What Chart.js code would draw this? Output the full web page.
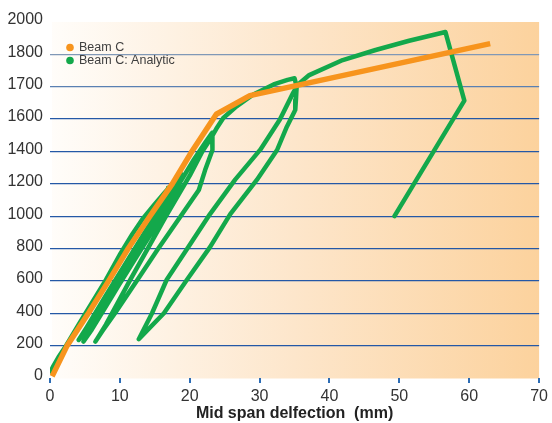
<!DOCTYPE html>
<html>
<head>
<meta charset="utf-8">
<script src="https://cdn.jsdelivr.net/npm/chart.js@4/dist/chart.umd.min.js"></script>
<style>
html,body{margin:0;padding:0;background:#fff;}
canvas{display:block;}
</style>
</head>
<body>
<canvas id="c" width="552" height="423"></canvas>
<script>
// Y tick labels as printed on the original axis (evenly spaced ticks)
const yTickLabels = ['0','200','400','600','800','1000','1200','1400','1600','1700','1800','2000'];
const xTitle = 'Mid span delfection  (mm)';
const seriesNames = ['Beam C', 'Beam C: Analytic'];

// Beam C (test) : deflection (mm) and load (axis units, uniform tick spacing of 200)
const beamX = [0.3, 2.45, 5.5, 8.4, 11.2, 14.3, 17.5, 20.3, 23.8, 28.6, 63.0];
const beamY = [10, 200, 400, 600, 800, 1000, 1200, 1400, 1630, 1745, 2066];

// Beam C: Analytic (cyclic path)
const anaX = [
  0.1, 0.5, 1.3, 2.3, 4.2, 6.1, 8.0, 10.1, 11.8, 13.2, 14.9, 16.3, 17.0,
  16.9, 16.0, 13.4, 10.5, 7.6, 5.5, 4.6, 4.1,
  5.2, 8.0, 11.0, 14.0, 16.8, 18.8,
  18.6, 17.9, 15.3, 12.4, 9.5, 6.8, 5.4, 4.8,
  6.0, 9.1, 12.3, 15.2, 18.2, 20.6, 22.3, 23.2,
  23.3, 23.2, 22.2, 21.3, 18.7, 15.5, 12.4, 9.3, 7.5, 6.5,
  8.0, 11.4, 16.6, 20.0, 21.8, 23.0, 23.8, 24.8, 26.7, 29.1, 32.0, 34.0, 35.0,
  35.3, 35.2, 35.1, 33.9, 32.5, 29.6, 25.8, 22.9, 19.6, 16.3, 12.7,
  14.6, 16.7, 19.8, 22.9, 26.5, 30.1, 32.9, 34.8, 35.5, 37.1, 41.9, 46.6, 51.4, 56.6,
  59.3, 49.3
];
const anaY = [
  40, 75, 135, 200, 338, 472, 606, 770, 890, 980, 1070, 1140, 1175,
  1120, 1040, 860, 660, 460, 320, 260, 235,
  310, 510, 720, 930, 1120, 1260,
  1205, 1120, 950, 750, 550, 360, 265, 225,
  300, 520, 750, 960, 1180, 1350, 1460, 1515,
  1470, 1409, 1285, 1162, 1000, 800, 600, 400, 290, 225,
  330, 600, 1000, 1250, 1400, 1480, 1540, 1607, 1679, 1752, 1814, 1842, 1852,
  1800, 1720, 1656, 1553, 1409, 1224, 1013, 809, 607, 400, 240,
  400, 607, 809, 1013, 1226, 1411, 1597, 1762, 1814, 1872, 1965, 2027, 2084, 2138,
  1714, 1000
];

const FONT = "'Liberation Sans', Arial, Helvetica, sans-serif";

const toPts = (xs, ys) => xs.map((x, i) => ({x: x, y: ys[i]}));

const bgPlugin = {
  id: 'bg',
  beforeDraw(chart) {
    const {ctx, chartArea: a} = chart;
    const g = ctx.createLinearGradient(a.left, 0, a.right, 0);
    g.addColorStop(0, '#fffdfa');
    g.addColorStop(0.5, '#fde6cb');
    g.addColorStop(1, '#fcd29d');
    ctx.save();
    ctx.fillStyle = g;
    ctx.fillRect(a.left + 2, a.top, a.right - a.left - 2, a.bottom - a.top + 0.5);
    ctx.restore();
  }
};

const legendPlugin = {
  id: 'innerLegend',
  afterDatasetsDraw(chart) {
    const {ctx, chartArea: a} = chart;
    ctx.save();
    ctx.font = '12.5px ' + FONT;
    ctx.textBaseline = 'middle';
    ctx.textAlign = 'left';
    seriesNames.forEach((name, i) => {
      const ds = chart.data.datasets.find(d => d.label === name);
      const y = a.top + 25.5 + i * 13;
      ctx.fillStyle = ds.borderColor;
      ctx.beginPath();
      ctx.arc(a.left + 20, y, 3.8, 0, Math.PI * 2);
      ctx.fill();
      ctx.fillStyle = '#404040';
      ctx.fillText(name, a.left + 29, y + 0.5);
    });
    ctx.restore();
  }
};

new Chart(document.getElementById('c'), {
  type: 'scatter',
  data: {
    datasets: [
      {
        label: seriesNames[1],
        data: toPts(anaX, anaY),
        showLine: true,
        borderColor: '#13a84b',
        backgroundColor: '#13a84b',
        borderWidth: 4.5,
        pointRadius: 0,
        tension: 0,
        borderJoinStyle: 'round',
        borderCapStyle: 'round',
        order: 2
      },
      {
        label: seriesNames[0],
        data: toPts(beamX, beamY),
        showLine: true,
        borderColor: '#f7941d',
        backgroundColor: '#f7941d',
        borderWidth: 5.5,
        pointRadius: 0,
        tension: 0,
        borderJoinStyle: 'round',
        borderCapStyle: 'butt',
        order: 1
      }
    ]
  },
  options: {
    responsive: false,
    animation: false,
    devicePixelRatio: 1,
    layout: {padding: {left: 0, right: 12, top: 22, bottom: 0}},
    plugins: {
      legend: {display: false},
      tooltip: {enabled: false}
    },
    scales: {
      x: {
        type: 'linear',
        min: 0, max: 70,
        afterFit(s) { s.height = 45; },
        border: {display: false},
        grid: {
          drawOnChartArea: false,
          drawTicks: true,
          tickLength: 5,
          color: '#2d6db5',
          lineWidth: 2
        },
        ticks: {
          stepSize: 10,
          padding: 4,
          color: '#333',
          font: {family: FONT, size: 16}
        },
        title: {
          display: true,
          text: xTitle,
          color: '#222',
          font: {family: FONT, size: 16, weight: 'bold'},
          padding: {top: 0, bottom: 0}
        }
      },
      y: {
        type: 'linear',
        min: 0, max: 2200,
        afterFit(s) { s.width = 50; },
        border: {display: false},
        grid: {
          drawTicks: false,
          lineWidth: 1.3,
          color(c) {
            const v = c.tick ? c.tick.value : 0;
            if (v === 0 || v === 2200) return 'rgba(0,0,0,0)';
            if (v === 2000) return '#8098b6';
            if (v === 1800) return '#5a80b2';
            return '#2458a6';
          }
        },
        ticks: {
          stepSize: 200,
          padding: 7,
          labelOffset: -2,
          color: '#333',
          font: {family: FONT, size: 16},
          callback(value, index) { return yTickLabels[index]; }
        }
      }
    }
  },
  plugins: [bgPlugin, legendPlugin]
});
</script>
</body>
</html>
